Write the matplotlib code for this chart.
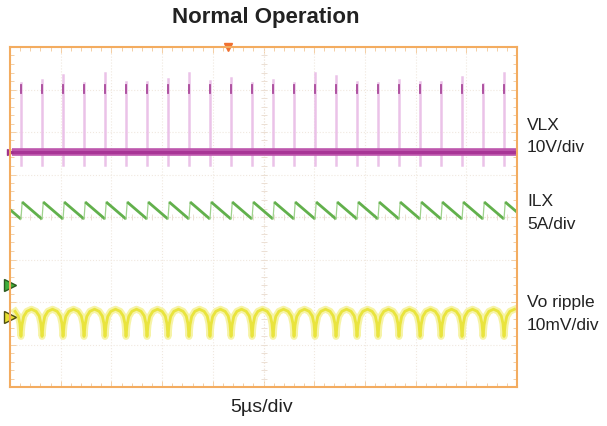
import numpy as np
import matplotlib
matplotlib.use("Agg")
import matplotlib.pyplot as plt

plt.rcParams['font.family'] = ['Liberation Sans', 'DejaVu Sans']

# screen: 10 div x 5us, 8 div vertical
T_DIV = 5.0
N_XDIV = 10
N_YDIV = 8

# switching edges (us)
edge_times = [1.08, 3.16, 5.23, 7.30, 9.37, 11.44, 13.51, 15.58, 17.65, 19.72,
              21.80, 23.87, 25.94, 28.01, 30.08, 32.15, 34.22, 36.29, 38.36, 40.44,
              42.51, 44.58, 46.65, 48.72]

# VLX: 10V/div, ground marker at 5.53 div
vlx_peak = [16.2, 16.9, 18.1, 16.2, 18.6, 16.5, 16.5, 17.2, 18.6, 16.8, 17.5, 16.3,
            17.0, 16.2, 18.6, 17.9, 16.4, 16.2, 17.0, 16.5, 16.4, 17.6, 16.0, 18.6]
vlx_plateau = (13.8, 15.8)
vlx_undershoot = -3.0
vlx_zero, vlx_scale = 5.53, 10.0

# ILX: 5A/div, zero marker at 2.4 div
ilx_peak, ilx_valley = 9.76, 7.76
ilx_rise = 0.12  # us
ilx_zero, ilx_scale = 2.4, 5.0

# Vo ripple: 10mV/div, marker at 1.65 div; one period shape (phase, mV)
vo_phase = [0.0, 0.05, 0.13, 0.28, 0.5, 0.72, 0.87, 0.95, 1.0]
vo_mv = [-4.6, -1.9, 0.1, 1.3, 1.8, 1.3, 0.2, -1.6, -4.6]
vo_zero, vo_scale = 1.65, 10.0

fig = plt.figure(figsize=(6.07, 4.26), dpi=100)
ax = fig.add_axes([10 / 607, 39 / 426, 507 / 607, 340 / 426])
ax.set_xlim(0, N_XDIV * T_DIV)
ax.set_ylim(0, N_YDIV)

# graticule
ax.set_xticks(np.arange(0, 51, T_DIV))
ax.set_yticks(np.arange(0, 9, 1))
ax.set_xticks(np.arange(0, 51, 1.0), minor=True)
ax.set_yticks(np.arange(0, 8.01, 0.2), minor=True)
ax.grid(True, which='major', linestyle=':', color='#f0e8df', lw=0.8)
ax.tick_params(which='both', direction='in', color='#f4cfa5', top=True, right=True,
               labelbottom=False, labelleft=False, length=3, width=0.7)
ax.tick_params(which='major', length=4)
for s in ax.spines.values():
    s.set_color('#f3ac60')
    s.set_linewidth(1.5)
ax.axhline(4, color='#f0e6dc', lw=0.8, ls=':')
ax.axvline(25, color='#f0e6dc', lw=0.8, ls=':')
ax.plot(np.full(41, 25.0), np.arange(0, 8.01, 0.2), ls='none', marker='_', ms=4,
        color='#ece0d4', mew=0.7)
ax.plot(np.arange(0, 51, 1.0), np.full(51, 4.0), ls='none', marker='|', ms=4,
        color='#ece0d4', mew=0.7)

period = np.mean(np.diff(edge_times))
starts = [edge_times[0] - period] + edge_times

# VLX trace
for t, pk in zip(edge_times, vlx_peak):
    ax.plot([t, t], [vlx_zero + vlx_undershoot / vlx_scale, vlx_zero + pk / vlx_scale],
            color='#ebc2e8', lw=1.8)
ax.plot([0.2, 50], [vlx_zero, vlx_zero], color='#bd56ad', lw=5.5, solid_capstyle='butt')
ax.plot([0.2, 50], [vlx_zero, vlx_zero], color='#a83596', lw=2.2, solid_capstyle='butt')
for t in edge_times:
    ax.plot([t, t], [vlx_zero + vlx_plateau[0] / vlx_scale, vlx_zero + vlx_plateau[1] / vlx_scale],
            color='#a9489a', lw=1.3)

# ILX trace
for i, t in enumerate(starts):
    y_pk = ilx_zero + ilx_peak / ilx_scale
    y_vl = ilx_zero + ilx_valley / ilx_scale
    t_end = starts[i + 1] if i + 1 < len(starts) else 50.0
    frac = (t_end - t - ilx_rise) / (period - ilx_rise)
    ax.plot([t, t + ilx_rise], [y_vl, y_pk], color='#9fd28d', lw=0.9)
    ax.plot([t + ilx_rise, t_end], [y_pk, y_pk + (y_vl - y_pk) * frac],
            color='#62b04c', lw=2.0, solid_capstyle='butt')

# Vo ripple trace
vo_t, vo_y = [], []
for t in starts:
    vo_t += [t + p * period for p in vo_phase]
    vo_y += [vo_zero + v / vo_scale for v in vo_mv]
vo_t = np.array(vo_t)
vo_y = np.array(vo_y)
keep = (vo_t <= 50) & (vo_t >= 0.2)
ax.plot(vo_t[keep], vo_y[keep], color='#f6f3a6', lw=5)
ax.plot(vo_t[keep], vo_y[keep], color='#e9e43e', lw=2.0)

# channel markers
ax.plot([0], [ilx_zero], marker='>', ms=9, color='#3fae3a', mec='#2a5a20', clip_on=False)
ax.plot([0], [vo_zero], marker='>', ms=9, color='#e8e030', mec='#505010', clip_on=False)
ax.plot([0], [vlx_zero], marker='>', ms=5, color='#a0308a', clip_on=False)
ax.plot([21.5], [8], marker='v', ms=6, color='#f07030', clip_on=False)

# text
fig.text(266 / 607, 1 - 18 / 426, 'Normal Operation', ha='center', va='center',
         fontsize=16, fontweight='bold', color='#222222')
fig.text(262 / 607, 1 - 408 / 426, '5\u00b5s/div', ha='center', va='center',
         fontsize=14, color='#222222')
labels = [('VLX', 125), ('10V/div', 148), ('ILX', 202), ('5A/div', 224),
          ('Vo ripple', 303), ('10mV/div', 326)]
for txt, ypx in labels:
    fig.text(527 / 607, 1 - ypx / 426, txt, ha='left', va='center', fontsize=12.5,
             color='#222222')

fig.savefig('out.png', dpi=100)
